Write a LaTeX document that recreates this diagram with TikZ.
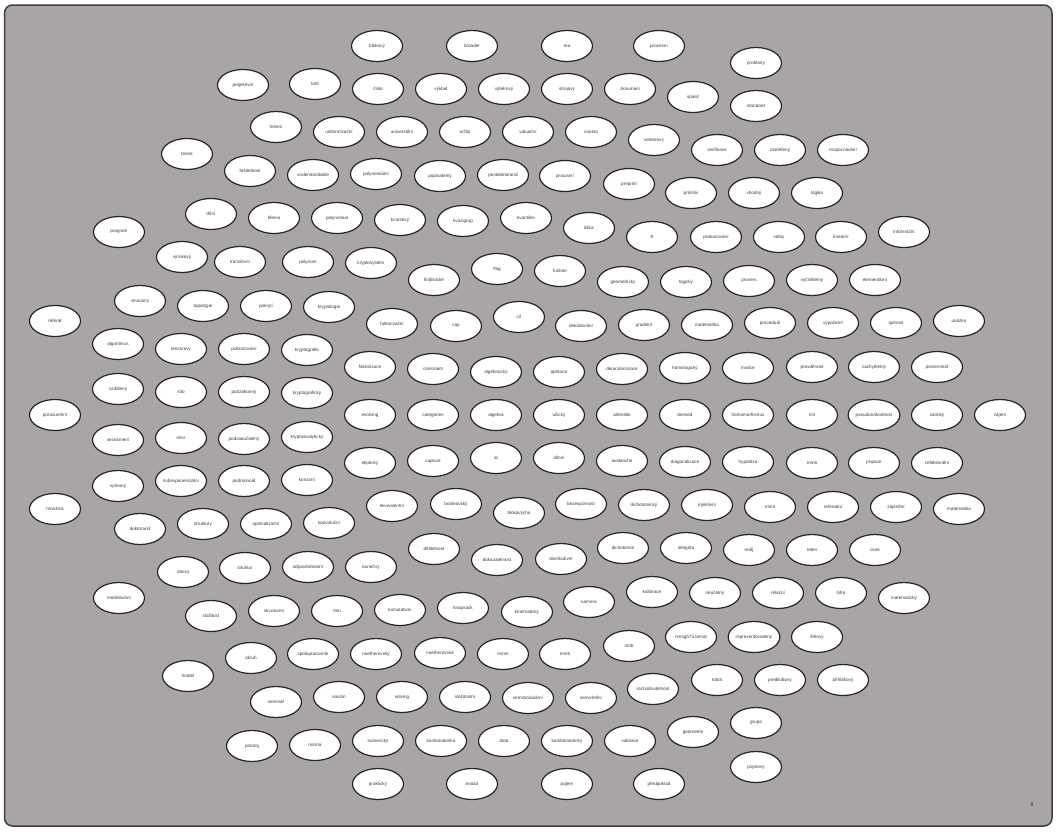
\documentclass[tikz,border=0pt]{standalone}
\usepackage{fontspec}
\setmainfont{Liberation Sans}
\usetikzlibrary{shapes.geometric}
\definecolor{bg}{HTML}{A9A5A6}
\definecolor{frame}{HTML}{404040}
\definecolor{txt}{HTML}{3A3A3A}
\tikzset{
  el/.style={ellipse, draw=black!85, line width=1.2pt, fill=white, minimum width=51pt, minimum height=31pt, inner sep=0pt, font=\fontsize{4.6}{5}\selectfont, text=txt},
}
\begin{document}
\begin{tikzpicture}[x=1pt,y=-1pt]
\useasboundingbox (0,0) rectangle (1057,831);
\draw[frame, line width=1.5pt, fill=bg, rounded corners=8pt] (4.5,5) rectangle (1052,826);
\foreach \x/\y/\t [count=\i] in {
377/46/blokový, 472/46/broader, 567/46/rea, 659/46/procesní, 756/63/prohlaný,
243/85/projektivní, 315/84/kód, 378/89/číslo, 441/89/výklad, 504/89/výběrový, 567/89/strojový, 630/89/zkoumání, 693/97/spasit, 756/106/standard,
276/127/řešení, 339/132/uniformizační, 402/132/univerzální, 465/132/určitý, 528/132/valuační, 591/132/varieta, 654/140/vektorový, 717/150/verifikace, 780/150/zaměřený, 843/150/rozpoznávání,
187/154/teorie, 250/171/řešitelnost, 313/175/understandable, 376/174/polynomiální, 440/176/popisatelný, 503/175/postdoktorand, 565/176/pracovní, 629/184/preprint, 691/193/primitiv, 754/193/vhodný, 817/193/logika,
211/214/dílní, 274/218/tělesa, 337/218/polynomial, 400/220/kvantový, 463/221/kvazigrup, 526/218/kvantiles, 589/228/liška, 652/237/8, 716/237/prokazování, 779/237/volby, 841/237/lineární, 904/232/informační,
119/232/program, 182/257/výrokový, 240/262/tranzitivní, 308/262/polynom, 371/263/kryptosystém, 434/280/finitistické, 497/269/flag, 560/271/funktor, 623/282/geometrický, 686/282/logický, 749/281/provers, 812/280/vyčíslitelný, 875/280/elementární,
140/301/vlnovaný, 203/306/topologie, 266/306/pokrytí, 329/307/kryptologie, 392/324/faktorizační, 456/326/cap, 519/317/cíl, 581/326/dekódování, 644/325/gradient, 707/325/matematika, 770/323/proceduál, 833/323/výpočetní, 896/323/úplnost, 959/321/ukázka,
55/321/referát, 118/344/algoritmus, 181/349/tenzorový, 244/349/pokračování, 307/350/kryptografie, 370/367/faktorizace, 433/369/constraint, 496/372/algebraický, 559/372/aplikace, 622/369/derandomizace, 685/368/homologický, 748/368/matice, 812/367/pravděnost, 874/367/zachytitelný, 937/367/proseminář,
118/389/vzdálený, 181/392/síto, 244/392/podzákonný, 307/393/kryptografický, 370/415/evolving, 433/415/categories, 496/415/algebra, 559/415/učický, 622/415/aritmetik, 685/415/derived, 748/415/homomorfismus, 812/415/mít, 874/415/pseudonáhodnost, 937/415/zamlký, 1000/415/zájem,
55/415/porozumění, 118/440/seznámení, 181/438/mez, 244/439/podstatučitelný, 307/437/kryptoanalytický, 370/463/eliptický, 433/461/capture, 496/458/at, 559/458/afinní, 622/461/avalanche, 685/462/diagonalizace, 748/462/hypotéza, 812/463/rmnb, 874/463/popace, 937/463/zefektivnění,
118/486/vybraný, 181/481/subexponenciální, 244/481/podmonoid, 307/480/konzoní, 392/506/ekvivalentní, 456/504/booleovský, 519/513/blokovýcha, 581/504/bezespornost, 644/505/dichotomický, 707/505/injektivní, 770/507/rmmt, 833/507/referatiní, 896/507/záplnění, 959/509/matematika,
55/509/množina, 140/529/doktorand, 203/524/struktury, 266/524/optimalizační, 329/523/konvoluční, 434/549/dělitelnost, 497/560/dokazatelnost, 561/559/distributivní, 623/548/dichotomie, 686/548/integrita, 749/550/reálj, 812/550/reten, 875/550/úsek,
183/572/obora, 245/568/struktur, 308/567/odpovědnostní, 371/567/konečný, 652/592/kalibrace, 715/593/neúčetný, 778/593/relační, 841/593/šifra, 904/598/matematický,
119/598/modelování, 211/616/složitost, 274/611/structures, 337/611/ntru, 400/610/komutativní, 463/608/knapsack, 527/612/kinematický, 589/602/kamera,
251/658/okruh, 313/654/spolupracovník, 376/654/noetherovský, 440/653/noetherovské, 503/654/mmm, 565/654/mmb, 629/646/nmb, 691/637/nmsg575.temat, 754/637/reprezentovatelný, 817/637/šifrový,
188/676/model, 276/702/seminář, 339/697/součin, 402/697/solving, 465/697/složitostní, 528/698/semimodulární, 591/698/semivlnění, 653/689/rozhodnutelnost, 717/680/robot, 780/680/predikátový, 843/680/přihlášový,
252/746/postroj, 315/745/norma, 378/741/numerický, 441/741/kombinatorika, 504/741/data, 567/741/kombinatorický, 630/741/validace, 693/732/geometrie, 756/723/grupa,
378/784/praktický, 472/784/modul, 567/784/pojem, 659/784/předpoklad, 756/767/pojmový}
  \node[el] (n\i) at (\x,\y) {\t};
\node[font=\fontsize{5}{5}\selectfont, text=black!80, inner sep=0pt] (pg) at (1032,805) {8};
\end{tikzpicture}
\end{document}
